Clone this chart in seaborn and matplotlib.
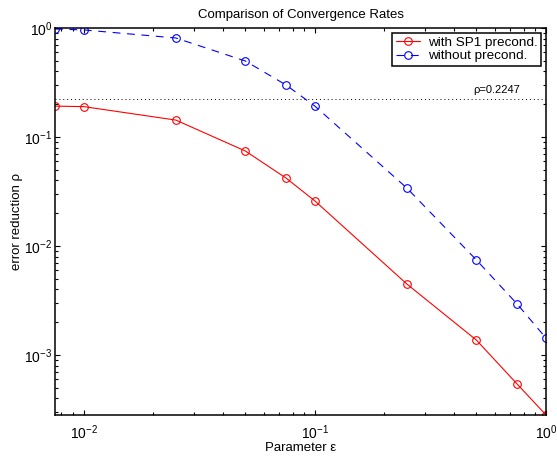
import matplotlib
matplotlib.use("Agg")
import matplotlib.pyplot as plt
import seaborn as sns
import pandas as pd
import numpy as np

eps = [0.0075, 0.01, 0.025, 0.05, 0.075, 0.1, 0.25, 0.5, 0.75, 1.0]
with_sp1 = [0.192, 0.19, 0.143, 0.0744, 0.042, 0.0259, 0.00448, 0.00137, 0.000542, 0.000282]
without = [0.98, 0.96, 0.81, 0.498, 0.30, 0.192, 0.034, 0.00744, 0.00294, 0.00143]
rho = 0.2247
labels = ["with SP1 precond.", "without precond."]

sns.set_style("ticks")
plt.rcParams['font.family'] = ['Liberation Sans', 'DejaVu Sans']
plt.rcParams['mathtext.fontset'] = 'custom'
plt.rcParams['mathtext.rm'] = 'Liberation Sans'
plt.rcParams['mathtext.it'] = 'Liberation Sans'
plt.rcParams['xtick.color'] = 'black'
plt.rcParams['ytick.color'] = 'black'
plt.rcParams['axes.edgecolor'] = 'black'
plt.rcParams['text.color'] = 'black'
plt.rcParams['axes.labelcolor'] = 'black'

fig = plt.figure(figsize=(5.57, 4.57), dpi=100)
ax = fig.add_axes([55/557, 1-415/457, (546-55)/557, (415-28)/457])

df1 = pd.DataFrame({"eps": eps, "val": with_sp1})
df2 = pd.DataFrame({"eps": eps, "val": without})
sns.lineplot(data=df1, x="eps", y="val", ax=ax, color="red", lw=0.8,
             marker="o", markersize=5.5, markerfacecolor="none", markeredgecolor="red",
             markeredgewidth=0.8, label=labels[0])
sns.lineplot(data=df2, x="eps", y="val", ax=ax, color="blue", lw=0.8, linestyle=(0, (7, 6)),
             marker="o", markersize=5.5, markerfacecolor="none", markeredgecolor="blue",
             markeredgewidth=0.8, label=labels[1])
ax.set_xscale("log")
ax.set_yscale("log")
ax.set_xlim(0.0075, 1.0)
ax.set_ylim(10**-3.55, 1.0)
ax.axhline(rho, color="black", lw=0.7, linestyle=(0, (1, 3)))
ax.text(0.851, rho * 1.07, "ρ=%.4f" % rho, transform=ax.get_yaxis_transform(),
        fontsize=8, ha="left", va="bottom")

ax.set_title("Comparison of Convergence Rates", fontsize=9.5, pad=7)
ax.set_xlabel("Parameter ε", fontsize=9.5, labelpad=0)
ax.set_ylabel("error reduction ρ", fontsize=9.5, labelpad=0.5)
ax.tick_params(which="both", direction="in", top=True, right=True, labelsize=10, width=0.8)
ax.tick_params(which="major", length=3.5)
ax.tick_params(axis="x", which="major", pad=6)
ax.tick_params(axis="y", which="major", pad=2)
ax.tick_params(which="minor", length=2)
for s in ax.spines.values():
    s.set_linewidth(1.1)
    s.set_visible(True)

leg = ax.legend(loc="upper right", fontsize=9.7, frameon=True, fancybox=False,
                edgecolor="black", borderaxespad=0.35, handlelength=1.8,
                handletextpad=0.6, borderpad=0.25, labelspacing=0.1, framealpha=1)
leg.get_frame().set_linewidth(1.1)

fig.savefig("out.png", dpi=100)
